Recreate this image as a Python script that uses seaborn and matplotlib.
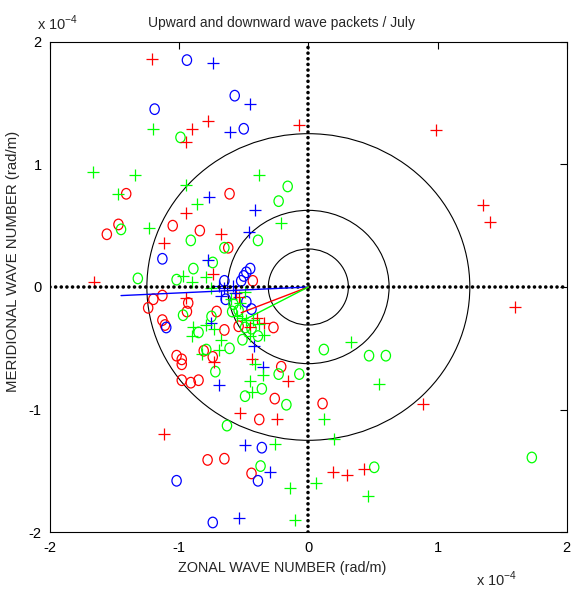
import numpy as np
import pandas as pd
import matplotlib
matplotlib.use("Agg")
import matplotlib.pyplot as plt
from matplotlib.patches import Circle
from matplotlib.markers import MarkerStyle
from matplotlib.transforms import Affine2D
import seaborn as sns

# ---- data (wave numbers in units of 1e-4 rad/m) ----
red_plus_x = [-1.21, -0.07, -0.78, -0.90, -0.95, -0.95, -0.68, -1.12, -0.74, -1.66, 0.99, 1.35, 1.41,
              1.60, 0.89, 0.19, 0.30, 0.43, -0.95, -0.73, -0.44, -0.16, -0.53, -0.24, -1.12, -0.56,
              -0.54, -0.45, -0.40, -0.34]
red_plus_y = [1.86, 1.32, 1.35, 1.29, 1.18, 0.60, 0.43, 0.36, 0.11, 0.04, 1.28, 0.67, 0.53,
              -0.16, -0.95, -1.51, -1.53, -1.48, -0.09, -0.61, -0.59, -0.77, -1.03, -1.08, -1.20, -0.05,
              -0.08, -0.33, -0.25, -0.29]

red_circ_x = [-1.41, -0.61, -1.47, -1.56, -1.05, -0.84, -0.62, -0.43, -1.24, -1.20, -1.13, -0.93, -0.94,
              -1.13, -1.11, -0.71, -0.65, -0.81, -0.74, -1.02, -0.98, -0.98, -0.98, -0.91, -0.85, -0.21,
              -0.26, -0.38, -0.78, -0.65, -0.44, 0.11, -0.54, -0.27]
red_circ_y = [0.76, 0.76, 0.51, 0.43, 0.50, 0.46, 0.32, 0.05, -0.17, -0.10, -0.07, -0.13, -0.20,
              -0.27, -0.31, -0.20, -0.35, -0.52, -0.57, -0.56, -0.59, -0.63, -0.76, -0.78, -0.76, -0.65,
              -0.91, -1.08, -1.41, -1.40, -1.52, -0.95, -0.32, -0.33]

blue_plus_x = [-0.74, -0.45, -0.61, -0.77, -0.41, -0.46, -0.78, -0.75, -0.69, -0.35, -0.49, -0.30,
               -0.54, -0.69, -0.65, -0.58, -0.42, -0.68, -0.57]
blue_plus_y = [1.83, 1.49, 1.26, 0.73, 0.63, 0.45, 0.22, -0.29, -0.80, -0.65, -1.29, -1.51,
               -1.88, 0.01, -0.01, 0.01, -0.48, -0.07, -0.05]

blue_circ_x = [-0.94, -0.57, -1.19, -0.50, -1.13, -0.45, -0.48, -0.50, -0.52, -0.65, -0.64, -0.48,
               -0.44, -1.10, -0.36, -0.39, -1.02, -0.74]
blue_circ_y = [1.85, 1.56, 1.45, 1.29, 0.23, 0.15, 0.12, 0.09, 0.05, 0.05, -0.10, -0.12,
               -0.18, -0.33, -1.31, -1.58, -1.58, -1.92]

green_plus_x = [-1.20, -1.67, -1.34, -0.38, -0.95, -1.47, -0.86, -0.21, -1.23, -0.97, -0.79, -0.90,
                -0.75, -0.49, -0.60, -0.55, -0.51, -0.89, -0.90, -0.79, -0.73, -0.68, -0.69, -0.82,
                -0.41, -0.35, -0.45, -0.44, -0.38, -0.34, -0.45, -0.26, -0.14, -0.10, 0.33, 0.55,
                0.12, 0.20, 0.06, 0.46, -0.53, -0.48, -0.43]
green_plus_y = [1.29, 0.94, 0.91, 0.91, 0.83, 0.76, 0.68, 0.52, 0.48, 0.09, 0.08, 0.04,
                -0.01, -0.04, -0.10, -0.24, -0.25, -0.33, -0.40, -0.31, -0.34, -0.43, -0.51, -0.55,
                -0.63, -0.72, -0.77, -0.86, -0.30, -0.39, -0.40, -1.28, -1.64, -1.90, -0.45, -0.79,
                -1.08, -1.24, -1.60, -1.70, -0.13, -0.27, -0.27]

green_circ_x = [-0.99, -0.16, -0.23, -1.45, -0.91, -0.39, -0.65, -0.74, -0.89, -1.32, -1.02, -0.97,
                -0.75, -0.85, -0.79, -0.61, -0.72, -0.58, -0.54, -0.59, -0.44, -0.49, -0.39, -0.51,
                -0.23, -0.07, -0.49, -0.36, -0.17, -0.63, -0.37, 0.12, 0.47, 0.60, 1.73, 0.51]
green_circ_y = [1.22, 0.82, 0.70, 0.47, 0.38, 0.38, 0.32, 0.20, 0.15, 0.07, 0.06, -0.23,
                -0.24, -0.37, -0.51, -0.50, -0.69, -0.14, -0.19, -0.20, -0.34, -0.33, -0.40, -0.43,
                -0.71, -0.71, -0.89, -0.83, -0.96, -1.13, -1.46, -0.51, -0.56, -0.56, -1.39, -1.47]

# mean vectors (end points, from the origin)
vec_colors = ["#0000ff", "#ff0000", "#00ff00"]
vec_x = [-1.45, -0.52, -0.50]
vec_y = [-0.07, -0.21, -0.27]

ring_radii = [0.31, 0.625, 1.25]
ticks = [-2, -1, 0, 1, 2]
tick_labels = ["-2", "-1", "0", "1", "2"]

title = "Upward and downward wave packets / July"
xlabel = "ZONAL WAVE NUMBER (rad/m)"
ylabel = "MERIDIONAL WAVE NUMBER (rad/m)"

# ---- figure ----
sns.set_theme(style="white")
plt.rcParams["font.family"] = ["Liberation Sans", "DejaVu Sans"]
plt.rcParams["axes.unicode_minus"] = False
plt.rcParams["mathtext.fontset"] = "custom"
plt.rcParams["mathtext.rm"] = "Liberation Sans"

fig = plt.figure(figsize=(5.71, 5.93), dpi=100)
fig.patch.set_facecolor("white")
ax = fig.add_axes([50 / 571, 1 - 532.3 / 593, 516.7 / 571, 490.6 / 593])
ax.set_facecolor("white")

palette = {"red": "#ff0000", "blue": "#0000ff", "green": "#00ff00"}
groups = [
    ("red", "+", red_plus_x, red_plus_y),
    ("red", "o", red_circ_x, red_circ_y),
    ("blue", "+", blue_plus_x, blue_plus_y),
    ("blue", "o", blue_circ_x, blue_circ_y),
    ("green", "+", green_plus_x, green_plus_y),
    ("green", "o", green_circ_x, green_circ_y),
]
frames = []
for c, m, xs, ys in groups:
    frames.append(pd.DataFrame({"x": xs, "y": ys, "c": c, "m": m}))
df = pd.concat(frames, ignore_index=True)

for r in ring_radii:
    ax.add_patch(Circle((0, 0), r, fill=False, edgecolor="black", linewidth=0.8, zorder=2))

oval = MarkerStyle("o", transform=Affine2D().scale(0.88, 1.0))
for m in ["o", "+"]:
    sub = df[df["m"] == m]
    for c in ["red", "blue", "green"]:
        s2 = sub[sub["c"] == c]
        sns.scatterplot(data=s2, x="x", y="y", color=palette[c],
                        marker=oval if m == "o" else "+",
                        s=58 if m == "o" else 64, linewidth=0.9, legend=False, ax=ax, zorder=3)
        coll = ax.collections[-1]
        if m == "o":
            coll.set_facecolors("none")
        coll.set_edgecolors(palette[c])
        coll.set_linewidths(0.9)

# dotted zero axes
ax.axhline(0, color="black", linewidth=2.6, linestyle=(0, (0.01, 1.55)),
           dash_capstyle="round", zorder=4)
ax.axvline(0, color="black", linewidth=2.6, linestyle=(0, (0.01, 1.55)),
           dash_capstyle="round", zorder=4)

vec_df = pd.DataFrame({"x": vec_x, "y": vec_y, "c": vec_colors})
for _, row in vec_df.iterrows():
    seg = pd.DataFrame({"x": [0.0, row["x"]], "y": [0.0, row["y"]]})
    sns.lineplot(data=seg, x="x", y="y", color=row["c"], linewidth=1.0, ax=ax,
                 sort=False, estimator=None, zorder=5)

ax.set_xlim(-2, 2)
ax.set_ylim(-2, 2)
ax.set_xticks(ticks)
ax.set_yticks(ticks)
ax.set_xticklabels(tick_labels)
ax.set_yticklabels(tick_labels)
ax.tick_params(direction="in", length=5, width=0.8, top=True, right=True,
               labelsize=10.5, pad=6, colors="black")
for sp in ax.spines.values():
    sp.set_color("black")
    sp.set_linewidth(0.8)

ax.set_xlabel(xlabel, fontsize=10.4)
ax.xaxis.set_label_coords(0.449, -0.058)
ax.set_ylabel(ylabel, fontsize=10.8)
ax.yaxis.set_label_coords(-0.058, 0.553)

fig.text(282 / 571, 1 - 27 / 593, title, ha="center", va="baseline", fontsize=10.0)
fig.text(37 / 571, 1 - 30 / 593, r"x 10$^{\mathregular{-4}}$", ha="left", va="baseline", fontsize=10.5)
fig.text(476 / 571, 1 - 586 / 593, r"x 10$^{\mathregular{-4}}$", ha="left", va="baseline", fontsize=10.5)

fig.savefig("out.png", dpi=100, facecolor="white")
